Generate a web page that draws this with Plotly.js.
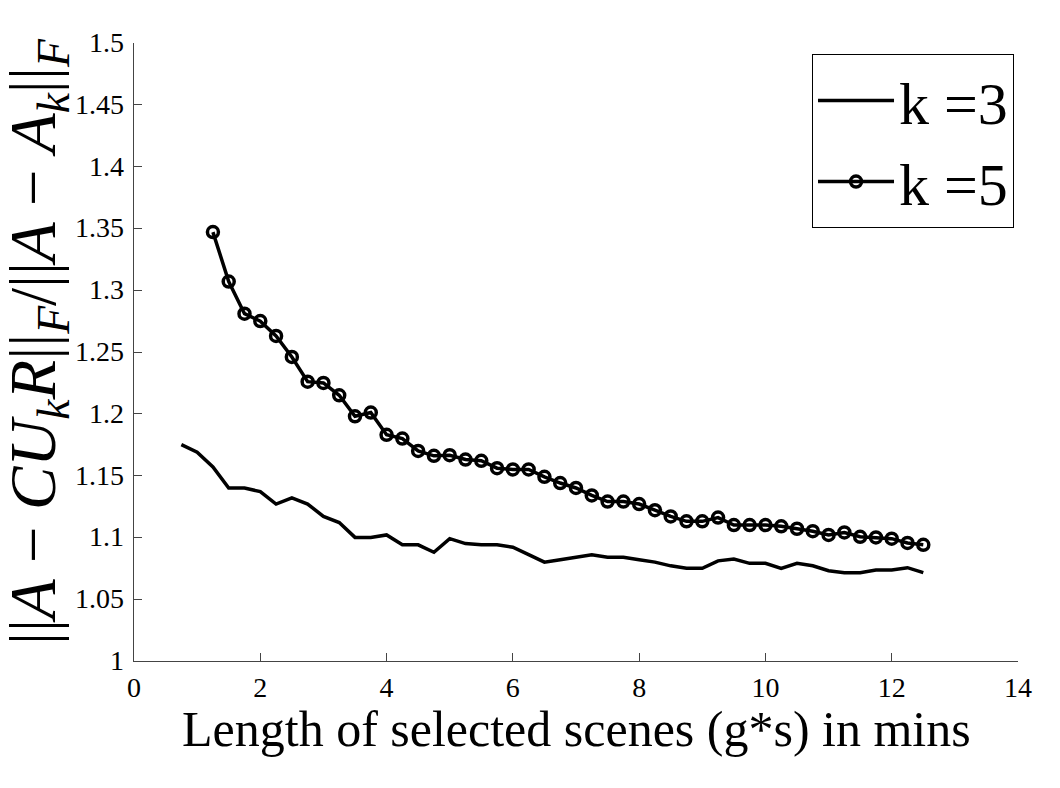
<!DOCTYPE html>
<html>
<head>
<meta charset="utf-8">
<script src="https://cdn.plot.ly/plotly-3.0.1.min.js"></script>
<style>
  html, body { margin: 0; padding: 0; background: #fff; }
  #wrap { position: relative; width: 1060px; height: 788px; }
  #chart { width: 1060px; height: 788px; }
  #ticklabels { position: absolute; left: 0; top: 0; width: 0; height: 0; }
  .tl { position: absolute; font-family: "Liberation Serif", "Times New Roman", serif;
        font-size: 28px; line-height: 1; color: #000; white-space: nowrap; }
  .tlx { transform: translateX(-50%); }
  .tly { transform: translate(-100%, -50%); }
</style>
</head>
<body>
<div id="wrap">
  <div id="chart"></div>
  <div id="ticklabels"></div>
</div>
<script>
// Scene length (minutes) for each series
const xK3 = [0.75, 1.0, 1.25, 1.5, 1.75, 2.0, 2.25, 2.5, 2.75, 3.0, 3.25, 3.5, 3.75, 4.0,
  4.25, 4.5, 4.75, 5.0, 5.25, 5.5, 5.75, 6.0, 6.25, 6.5, 6.75, 7.0, 7.25, 7.5, 7.75, 8.0,
  8.25, 8.5, 8.75, 9.0, 9.25, 9.5, 9.75, 10.0, 10.25, 10.5, 10.75, 11.0, 11.25, 11.5,
  11.75, 12.0, 12.25, 12.5];
const yK3 = [1.175, 1.169, 1.157, 1.140, 1.140, 1.137, 1.127, 1.132, 1.127, 1.117, 1.112,
  1.100, 1.100, 1.102, 1.094, 1.094, 1.088, 1.099, 1.095, 1.094, 1.094, 1.092, 1.086,
  1.080, 1.082, 1.084, 1.086, 1.084, 1.084, 1.082, 1.080, 1.077, 1.075, 1.075, 1.081,
  1.0825, 1.079, 1.079, 1.075, 1.079, 1.077, 1.073, 1.0715, 1.0715, 1.0736, 1.0736,
  1.0755, 1.0715];

const xK5 = [1.25, 1.5, 1.75, 2.0, 2.25, 2.5, 2.75, 3.0, 3.25, 3.5, 3.75, 4.0, 4.25, 4.5,
  4.75, 5.0, 5.25, 5.5, 5.75, 6.0, 6.25, 6.5, 6.75, 7.0, 7.25, 7.5, 7.75, 8.0, 8.25, 8.5,
  8.75, 9.0, 9.25, 9.5, 9.75, 10.0, 10.25, 10.5, 10.75, 11.0, 11.25, 11.5, 11.75, 12.0,
  12.25, 12.5];
const yK5 = [1.347, 1.307, 1.281, 1.275, 1.263, 1.246, 1.226, 1.225, 1.215, 1.198, 1.201,
  1.183, 1.180, 1.170, 1.166, 1.1665, 1.163, 1.162, 1.156, 1.155, 1.155, 1.149, 1.144,
  1.140, 1.134, 1.129, 1.129, 1.127, 1.122, 1.117, 1.113, 1.113, 1.116, 1.110, 1.110,
  1.110, 1.109, 1.107, 1.105, 1.102, 1.104, 1.1005, 1.100, 1.099, 1.0955, 1.094];

const seriesNames = ["k =3", "k =5"];

const xTickVals = [0, 2, 4, 6, 8, 10, 12, 14];
const xTickText = ["0", "2", "4", "6", "8", "10", "12", "14"];
const yTickVals = [1, 1.05, 1.1, 1.15, 1.2, 1.25, 1.3, 1.35, 1.4, 1.45, 1.5];
const yTickText = ["1", "1.05", "1.1", "1.15", "1.2", "1.25", "1.3", "1.35", "1.4", "1.45", "1.5"];

const xTitle = "Length of selected scenes (g*s) in mins";
const yTitle = "||<i>A</i> − <i>CU</i><sub><i>k</i></sub><i>R</i>||<sub><i>F</i></sub>/||<i>A</i> − <i>A</i><sub><i>k</i></sub>||<sub><i>F</i></sub>";

const serif = "Liberation Serif";

const traces = [
  {
    x: xK3, y: yK3, name: seriesNames[0], type: "scatter", mode: "lines",
    line: { color: "#000", width: 3.5 }
  },
  {
    x: xK5, y: yK5, name: seriesNames[1], type: "scatter", mode: "lines+markers",
    line: { color: "#000", width: 3.5 },
    marker: { symbol: "circle-open", size: 11, color: "#000", line: { color: "#000", width: 3.5 } }
  }
];

function axisStyle(vals) {
  return {
    range: [vals[0], vals[vals.length - 1]],
    tickmode: "array", tickvals: vals, showticklabels: false,
    showline: true, linecolor: "#444", linewidth: 1,
    ticks: "inside", ticklen: 8, tickcolor: "#444", tickwidth: 1,
    showgrid: false, zeroline: false
  };
}

// Axis titles as annotations in the serif face
const annotations = [
  {
    xref: "paper", x: 0.5, yref: "paper", y: 0, xanchor: "center", yanchor: "middle",
    yshift: -68, text: xTitle, showarrow: false,
    font: { family: serif, size: 50, color: "#000" }
  },
  {
    xref: "paper", x: 0, yref: "paper", y: 0.5, xanchor: "center", yanchor: "middle",
    xshift: -96, yshift: 10, textangle: -90, text: yTitle, showarrow: false,
    font: { family: serif, size: 65, color: "#000" }
  }
];

const layout = {
  width: 1060, height: 788,
  margin: { l: 134, r: 42, t: 43, b: 127 },
  paper_bgcolor: "#fff", plot_bgcolor: "#fff",
  xaxis: axisStyle(xTickVals),
  yaxis: axisStyle(yTickVals),
  annotations: annotations,
  showlegend: true,
  legend: {
    x: 0.9955, y: 0.982, xanchor: "right", yanchor: "top",
    bgcolor: "#fff", bordercolor: "#000", borderwidth: 1,
    font: { family: serif, size: 60, color: "#000" },
    itemwidth: 76, tracegroupgap: 0
  }
};

Plotly.newPlot("chart", traces, layout, { displayModeBar: false, staticPlot: true }).then(function (gd) {
  // Tick labels placed with the axes' own value-to-pixel mapping
  const fl = gd._fullLayout, xa = fl.xaxis, ya = fl.yaxis, sz = fl._size;
  const holder = document.getElementById("ticklabels");
  xTickVals.forEach(function (v, i) {
    const d = document.createElement("div");
    d.className = "tl tlx";
    d.textContent = xTickText[i];
    d.style.left = (sz.l + xa.l2p(v)) + "px";
    d.style.top = (sz.t + sz.h + 13) + "px";
    holder.appendChild(d);
  });
  yTickVals.forEach(function (v, i) {
    const d = document.createElement("div");
    d.className = "tl tly";
    d.textContent = yTickText[i];
    d.style.left = (sz.l - 10) + "px";
    d.style.top = (sz.t + ya.l2p(v)) + "px";
    holder.appendChild(d);
  });
});
</script>
</body>
</html>
